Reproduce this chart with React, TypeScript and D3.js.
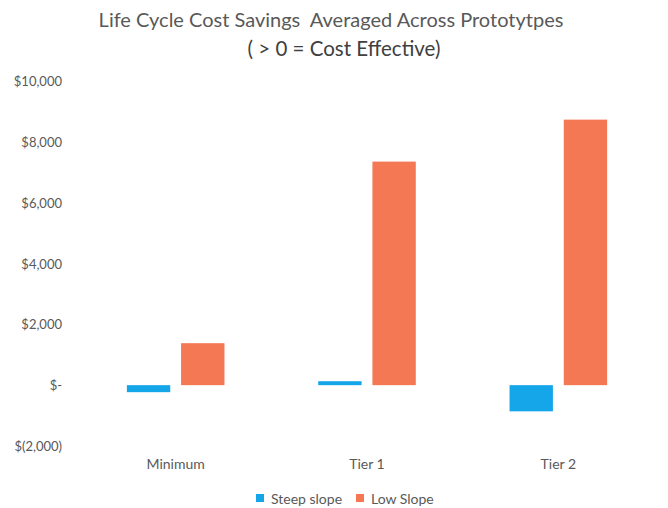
import React from "react";
import * as d3 from "d3";

const categories = ["Minimum", "Tier 1", "Tier 2"];
const seriesNames = ["Steep slope", "Low Slope"];
const steepSlope = [-230, 130, -860];
const lowSlope = [1380, 7350, 8730];
const yTicks = [-2000, 0, 2000, 4000, 6000, 8000, 10000];
const colors = ["#14A6E8", "#F47853"];

const W = 668;
const H = 508;
const margin = { left: 80, right: 14, top: 81, bottom: 62 };

function fmt(v: number) {
  if (v === 0) return "$-";
  const s = d3.format(",")(Math.abs(v));
  return v < 0 ? `$(${s})` : `$${s}`;
}

export default function App() {
  const x0 = d3
    .scaleBand<string>()
    .domain(categories)
    .range([margin.left, W - margin.right])
    .paddingInner(0.49)
    .paddingOuter(0.245);
  const x1 = d3
    .scaleBand<string>()
    .domain(seriesNames)
    .range([0, x0.bandwidth()])
    .paddingInner(0.2);
  const y = d3
    .scaleLinear()
    .domain([-2000, 10000])
    .range([H - margin.bottom, margin.top]);
  const series = [steepSlope, lowSlope];
  const font = "Lato, 'Open Sans', sans-serif";

  return (
    <svg width={W} height={H} style={{ position: "absolute", left: 0, top: 0, background: "#fff" }}>
      <text x={331} y={27} textAnchor="middle" fontFamily={font} fontSize={20} fill="#595959" style={{ whiteSpace: "pre" }}>
        {"Life Cycle Cost Savings\u00A0 Averaged Across Prototytpes"}
      </text>
      <text x={344} y={56} textAnchor="middle" fontFamily={font} fontSize={20.5} fill="#404040">
        ( &gt; 0 = Cost Effective)
      </text>
      {yTicks.map((t) => (
        <text key={t} x={62} y={y(t) + 5} textAnchor="end" fontFamily={font} fontSize={13} fill="#595959">
          {fmt(t)}
        </text>
      ))}
      {categories.map((c, i) => (
        <g key={c}>
          {series.map((s, j) => {
            const v = s[i];
            const top = Math.min(y(v), y(0));
            const h = Math.abs(y(v) - y(0));
            return (
              <rect
                key={j}
                x={(x0(c) as number) + (x1(seriesNames[j]) as number)}
                y={top}
                width={x1.bandwidth()}
                height={h}
                fill={colors[j]}
              />
            );
          })}
          <text
            x={(x0(c) as number) + x0.bandwidth() / 2}
            y={469}
            textAnchor="middle"
            fontFamily={font}
            fontSize={14}
            fill="#595959"
          >
            {c}
          </text>
        </g>
      ))}
      <g>
        <rect x={256} y={494} width={8} height={8} fill={colors[0]} />
        <text x={271} y={504} fontFamily={font} fontSize={14} fill="#595959">
          {seriesNames[0]}
        </text>
        <rect x={356} y={494} width={8} height={8} fill={colors[1]} />
        <text x={371} y={504} fontFamily={font} fontSize={14} fill="#595959">
          {seriesNames[1]}
        </text>
      </g>
    </svg>
  );
}
